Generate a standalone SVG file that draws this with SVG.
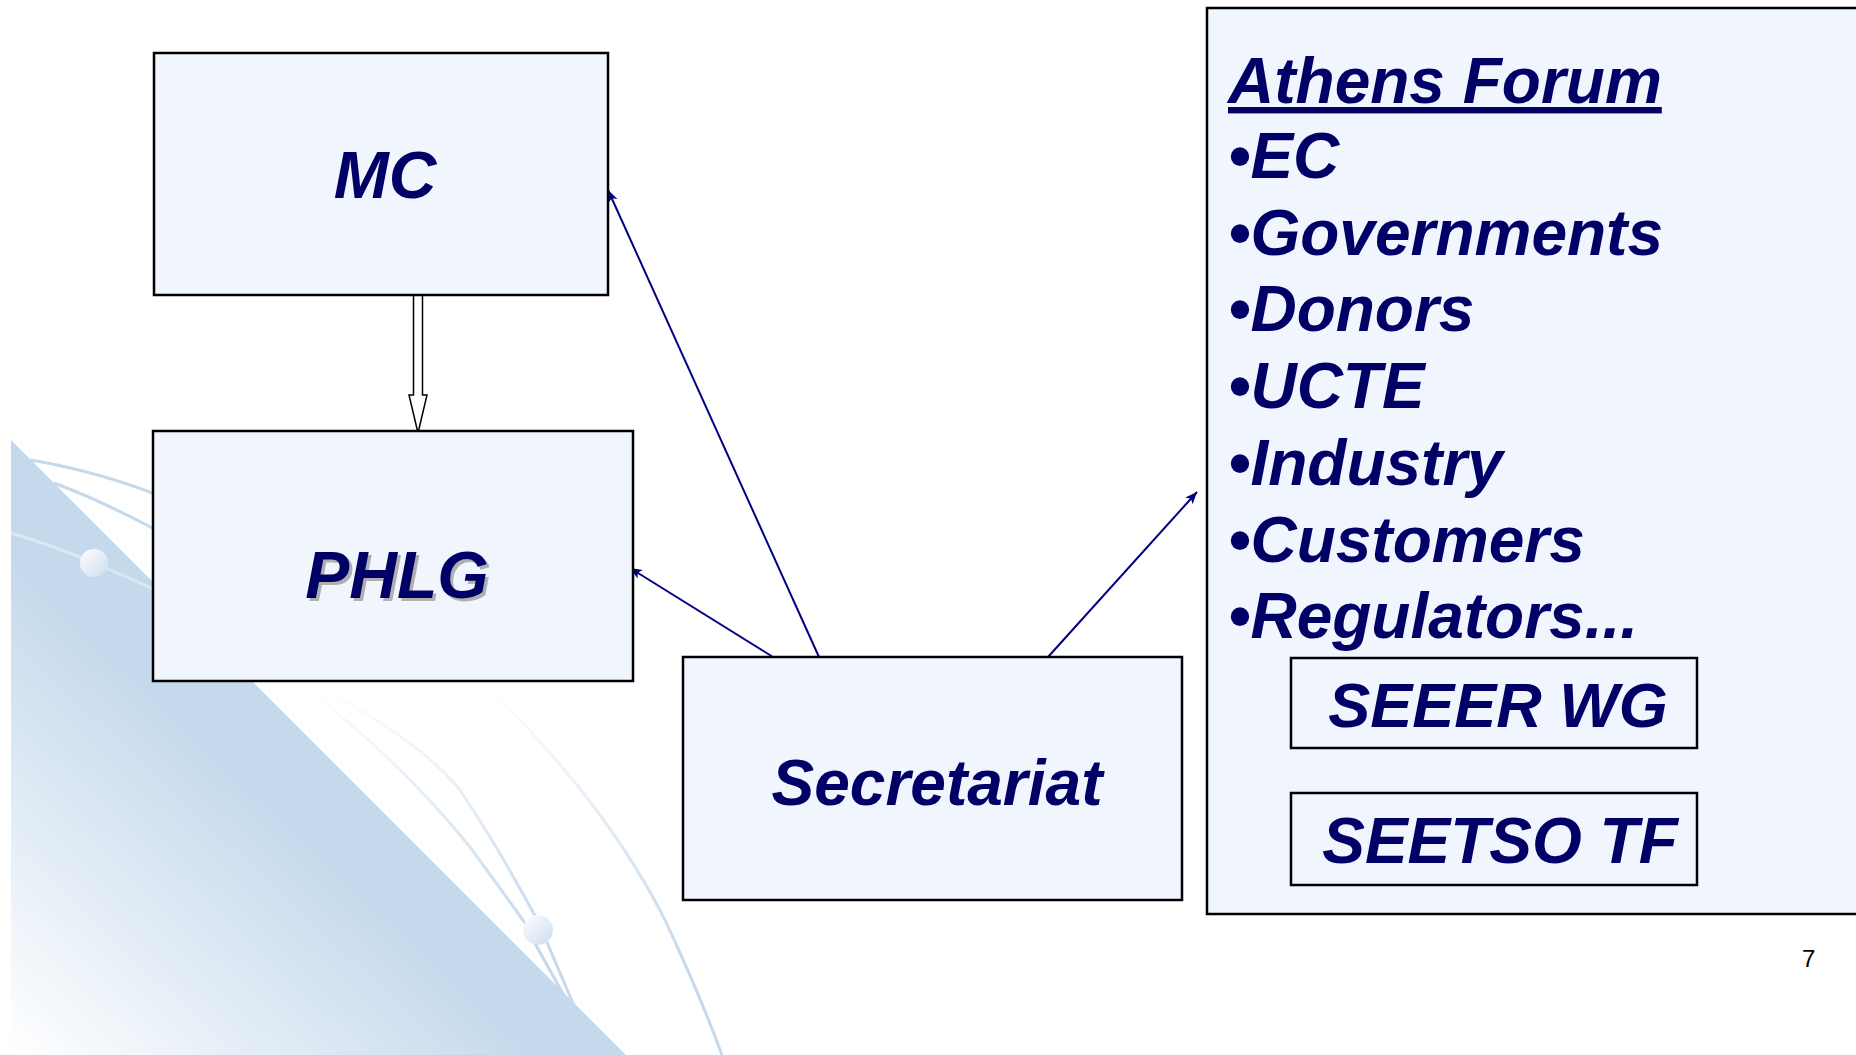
<svg xmlns="http://www.w3.org/2000/svg" width="1856" height="1055" viewBox="0 0 1856 1055">
<style>
.box{fill:#F1F5FD;stroke:#000;stroke-width:2.5}
.lbl{font-family:"Liberation Sans",Arial,sans-serif;font-weight:bold;font-style:italic;fill:#000066}
.conn{stroke:#000080;stroke-width:2;fill:none}
.deco{fill:none;stroke:#C5D9EC;stroke-width:3}
</style>
<defs>
<linearGradient id="tri" gradientUnits="userSpaceOnUse" x1="11" y1="1055" x2="260" y2="790">
<stop offset="0" stop-color="#FFFFFF"/>
<stop offset="1" stop-color="#C5D9EC"/>
</linearGradient>
<linearGradient id="fade" gradientUnits="userSpaceOnUse" x1="0" y1="683" x2="0" y2="930">
<stop offset="0" stop-color="#FFFFFF"/>
<stop offset="1" stop-color="#C5D9EC"/>
</linearGradient>
<linearGradient id="fadeC" gradientUnits="userSpaceOnUse" x1="0" y1="683" x2="0" y2="960">
<stop offset="0" stop-color="#FFFFFF"/>
<stop offset="1" stop-color="#C5D9EC"/>
</linearGradient>
<linearGradient id="ball" x1="0" y1="0" x2="1" y2="1">
<stop offset="0" stop-color="#FFFFFF"/>
<stop offset="1" stop-color="#CCDCEE"/>
</linearGradient>
<filter id="sh" x="-10%" y="-10%" width="130%" height="130%">
<feOffset dx="3" dy="3"/>
</filter>
<marker id="ah" markerUnits="userSpaceOnUse" markerWidth="14" markerHeight="12" refX="12" refY="5" orient="auto">
<path d="M0,0 L12,5 L0,10 L3,5 z" fill="#000080"/>
</marker>
</defs>

<g id="background">
<polygon points="11,440 626,1055 11,1055" fill="url(#tri)"/>
<path class="deco" d="M31,460 Q100,472 160,496"/>
<path class="deco" d="M54,483 Q100,500 160,532"/>
<path d="M11,533 Q60,548 94,563 Q125,576 160,592" fill="none" stroke="#FFFFFF" stroke-opacity="0.4" stroke-width="3"/>
<circle cx="94" cy="563" r="14" fill="url(#ball)"/>
<path d="M300,683 Q400,760 470,847 Q505,895 530,930" fill="none" stroke="url(#fade)" stroke-width="3"/>
<path d="M312,683 Q420,740 460,790 Q500,850 540,925" fill="none" stroke="url(#fade)" stroke-width="3"/>
<path class="deco" d="M533,940 L566,999"/>
<path class="deco" d="M546,940 L575,1008"/>
<circle cx="538" cy="930" r="15" fill="url(#ball)"/>
<path d="M485,683 Q560,760 600,815 Q640,870 665,920 Q700,995 722,1055" fill="none" stroke="url(#fadeC)" stroke-width="3"/>
</g>

<g id="connectors">
<polygon points="413.5,295 422.5,295 422.5,395 427,395 418,433 409,395 413.5,395" fill="#FFFFFF" stroke="#000" stroke-width="1.5"/>
<line class="conn" x1="819" y1="657" x2="608" y2="190" marker-end="url(#ah)"/>
<line class="conn" x1="773" y1="657" x2="630" y2="568" marker-end="url(#ah)"/>
<line class="conn" x1="1048" y1="657" x2="1197" y2="492" marker-end="url(#ah)"/>
</g>

<g id="node-mc">
<rect class="box" x="154" y="53" width="454" height="242"/>
<text class="lbl" x="385" y="198" font-size="66" text-anchor="middle">MC</text>
</g>

<g id="node-phlg">
<rect class="box" x="153" y="431" width="480" height="250"/>
<text class="lbl" x="397" y="598" font-size="66" text-anchor="middle" style="fill:#B0B0B0" filter="url(#sh)">PHLG</text>
<text class="lbl" x="397" y="598" font-size="66" text-anchor="middle">PHLG</text>
</g>

<g id="node-secretariat">
<rect class="box" x="683" y="657" width="499" height="243"/>
<text class="lbl" x="937" y="805" font-size="64" text-anchor="middle">Secretariat</text>
</g>

<g id="node-athens">
<rect class="box" x="1207" y="8" width="670" height="906"/>
<text class="lbl" x="1228" y="103" font-size="64" text-decoration="underline">Athens Forum</text>
<text class="lbl" x="1228" y="178" font-size="64">•EC</text>
<text class="lbl" x="1228" y="255" font-size="64">•Governments</text>
<text class="lbl" x="1228" y="331" font-size="64">•Donors</text>
<text class="lbl" x="1228" y="408" font-size="64">•UCTE</text>
<text class="lbl" x="1228" y="485" font-size="64">•Industry</text>
<text class="lbl" x="1228" y="562" font-size="64">•Customers</text>
<text class="lbl" x="1228" y="638" font-size="64">•Regulators...</text>
</g>

<g id="node-seeer">
<rect class="box" x="1291" y="658" width="406" height="90"/>
<text class="lbl" x="1498" y="727" font-size="63" text-anchor="middle">SEEER WG</text>
</g>

<g id="node-seetso">
<rect class="box" x="1291" y="793" width="406" height="92"/>
<text class="lbl" x="1500" y="863" font-size="64" text-anchor="middle">SEETSO TF</text>
</g>

<text x="1802" y="967" font-family="Liberation Sans, Arial, sans-serif" font-size="24" fill="#000">7</text>
</svg>
